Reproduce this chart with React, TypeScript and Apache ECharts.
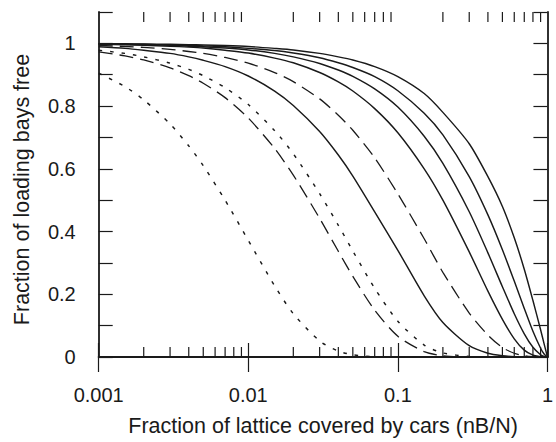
import React, { useEffect, useRef } from "react";
import * as echarts from "echarts";

// x positions (fraction of lattice covered, nB/N) at which curves were read
const xs = [0.001, 0.0015, 0.002, 0.003, 0.004, 0.005, 0.007, 0.01, 0.015, 0.02, 0.03, 0.04, 0.05, 0.07, 0.1, 0.15, 0.2, 0.3, 0.4, 0.5, 0.6, 0.7, 0.8, 0.9, 0.95, 1];

const curve1 = [0.905, 0.862, 0.82, 0.743, 0.673, 0.61, 0.5, 0.372, 0.227, 0.138, 0.051, 0.019, 0.007, 0.001, 0, 0, 0, 0, 0, 0, 0, 0, 0, 0, 0, 0];
const curve2 = [0.973, 0.96, 0.947, 0.922, 0.897, 0.873, 0.827, 0.762, 0.665, 0.58, 0.442, 0.337, 0.257, 0.149, 0.066, 0.017, 0.004, 0, 0, 0, 0, 0, 0, 0, 0, 0];
const curve3 = [0.978, 0.968, 0.957, 0.937, 0.917, 0.897, 0.859, 0.805, 0.722, 0.648, 0.521, 0.42, 0.338, 0.219, 0.114, 0.038, 0.013, 0.0015, 0, 0, 0, 0, 0, 0, 0, 0];
const curve4 = [0.989, 0.984, 0.978, 0.968, 0.957, 0.946, 0.926, 0.896, 0.848, 0.802, 0.719, 0.644, 0.577, 0.463, 0.34, 0.195, 0.11, 0.036, 0.012, 0.004, 0.001, 0, 0, 0, 0, 0];
const curve5 = [0.9935, 0.99, 0.987, 0.981, 0.974, 0.968, 0.955, 0.937, 0.907, 0.878, 0.823, 0.771, 0.723, 0.635, 0.52, 0.377, 0.27, 0.14, 0.07, 0.03, 0.012, 0.004, 0.001, 0, 0, 0];
const curve6 = [0.997, 0.9955, 0.994, 0.991, 0.988, 0.985, 0.978, 0.969, 0.953, 0.938, 0.907, 0.877, 0.848, 0.792, 0.715, 0.6, 0.5, 0.335, 0.21, 0.12, 0.058, 0.022, 0.006, 0.001, 0, 0];
const curve7 = [0.998, 0.997, 0.996, 0.994, 0.991, 0.989, 0.985, 0.979, 0.968, 0.957, 0.936, 0.915, 0.895, 0.855, 0.797, 0.704, 0.617, 0.463, 0.332, 0.224, 0.138, 0.074, 0.031, 0.007, 0.0016, 0];
const curve8 = [0.998, 0.9975, 0.997, 0.995, 0.994, 0.992, 0.989, 0.984, 0.977, 0.969, 0.954, 0.938, 0.923, 0.894, 0.849, 0.777, 0.708, 0.575, 0.453, 0.342, 0.242, 0.155, 0.082, 0.028, 0.0097, 0];
const curve9 = [0.999, 0.9985, 0.998, 0.997, 0.996, 0.995, 0.993, 0.99, 0.984, 0.979, 0.968, 0.957, 0.947, 0.926, 0.894, 0.84, 0.78, 0.68, 0.575, 0.48, 0.38, 0.28, 0.18, 0.087, 0.042, 0];

const curves = [curve1, curve2, curve3, curve4, curve5, curve6, curve7, curve8, curve9];
const curveStyles = ["dotted", "dashed", "dotted", "solid", "dashed", "solid", "solid", "solid", "solid"];

// minor tick positions on the log axis
const minorTicks = [0.002, 0.003, 0.004, 0.005, 0.006, 0.007, 0.008, 0.009, 0.02, 0.03, 0.04, 0.05, 0.06, 0.07, 0.08, 0.09, 0.2, 0.3, 0.4, 0.5, 0.6, 0.7, 0.8, 0.9];
const xTickLabels: Record<string, string> = { "-3": "0.001", "-2": "0.01", "-1": "0.1", "0": "1" };

const xTitle = "Fraction of lattice covered by cars (nB/N)";
const yTitle = "Fraction of loading bays free";

const INK = "#1a1a1a";
const FONT = "'Liberation Sans', Arial, Helvetica, sans-serif";

function dashFor(s: string): any {
  if (s === "dotted") return [3.5, 8];
  if (s === "dashed") return [14, 7];
  return "solid";
}

export default function App() {
  const ref = useRef<HTMLDivElement>(null);
  useEffect(() => {
    if (!ref.current) return;
    const chart = echarts.init(ref.current, null, { renderer: "svg" });
    const lineSeries = curves.map((c, i) => ({
      type: "line",
      data: xs.map((x, j) => [x, c[j]]),
      showSymbol: false,
      smooth: 0.25,
      silent: true,
      lineStyle: { color: INK, width: curveStyles[i] === "dashed" ? 1.3 : 1.45, type: dashFor(curveStyles[i]) },
      z: 3,
    }));
    const option: any = {
      animation: false,
      backgroundColor: "#ffffff",
      grid: { left: 98.7, right: 1.7, top: 12, bottom: 79.3 },
      xAxis: [
        {
          type: "log",
          logBase: 10,
          min: 0.001,
          max: 1,
          position: "bottom",
          name: xTitle,
          nameLocation: "middle",
          nameGap: 58,
          nameTextStyle: { fontFamily: FONT, fontSize: 21.5, color: INK },
          axisLine: { show: true, lineStyle: { color: INK, width: 1.8 } },
          axisTick: { show: true, inside: true, length: 14, lineStyle: { color: INK, width: 1.2 } },
          axisLabel: {
            show: true,
            margin: 28,
            fontFamily: FONT,
            fontSize: 20,
            color: INK,
            formatter: (v: number) => xTickLabels[String(Math.round(Math.log10(v)))] ?? "",
          },
          splitLine: { show: false },
        },
        {
          type: "log",
          logBase: 10,
          min: 0.001,
          max: 1,
          position: "top",
          axisLine: { show: true, lineStyle: { color: INK, width: 1.8 } },
          axisTick: { show: true, inside: true, length: 15, lineStyle: { color: INK, width: 1.2 } },
          axisLabel: { show: false },
          splitLine: { show: false },
        },
      ],
      yAxis: [
        {
          type: "value",
          min: 0,
          max: 1.1,
          interval: 0.1,
          position: "left",
          name: yTitle,
          nameLocation: "middle",
          nameGap: 66,
          nameTextStyle: { fontFamily: FONT, fontSize: 21.5, color: INK, padding: [0, 10, 0, 0] },
          axisLine: { show: true, lineStyle: { color: INK, width: 1.8 } },
          axisTick: { show: true, inside: true, length: 14, lineStyle: { color: INK, width: 1.2 } },
          axisLabel: {
            show: true,
            margin: 23,
            fontFamily: FONT,
            fontSize: 20,
            color: INK,
            formatter: (v: number) => {
              const t = Math.round(v * 10);
              if (t % 2 !== 0 || t > 10) return "";
              return String(t / 10);
            },
          },
          splitLine: { show: false },
        },
        {
          type: "value",
          min: 0,
          max: 1.1,
          interval: 0.1,
          position: "right",
          axisLine: { show: true, lineStyle: { color: INK, width: 1.8 } },
          axisTick: { show: true, inside: true, length: 14, lineStyle: { color: INK, width: 1.2 } },
          axisLabel: { show: false },
          splitLine: { show: false },
        },
      ],
      series: [
        ...lineSeries,
        {
          type: "custom",
          silent: true,
          clip: false,
          z: 4,
          data: minorTicks.map((x) => [x, 0]),
          renderItem: (params: any, api: any) => {
            const x = api.value(0);
            const b = api.coord([x, 0]);
            const t = api.coord([x, 1.1]);
            return {
              type: "group",
              children: [
                { type: "line", shape: { x1: b[0], y1: b[1], x2: b[0], y2: b[1] - 10 }, style: { stroke: INK, lineWidth: 1.2 } },
                { type: "line", shape: { x1: t[0], y1: t[1], x2: t[0], y2: t[1] + 10 }, style: { stroke: INK, lineWidth: 1.2 } },
              ],
            };
          },
        },
      ],
    };
    chart.setOption(option);
    return () => chart.dispose();
  }, []);
  return <div ref={ref} style={{ position: "fixed", left: 0, top: 0, width: 556, height: 442, background: "#fff" }} />;
}
